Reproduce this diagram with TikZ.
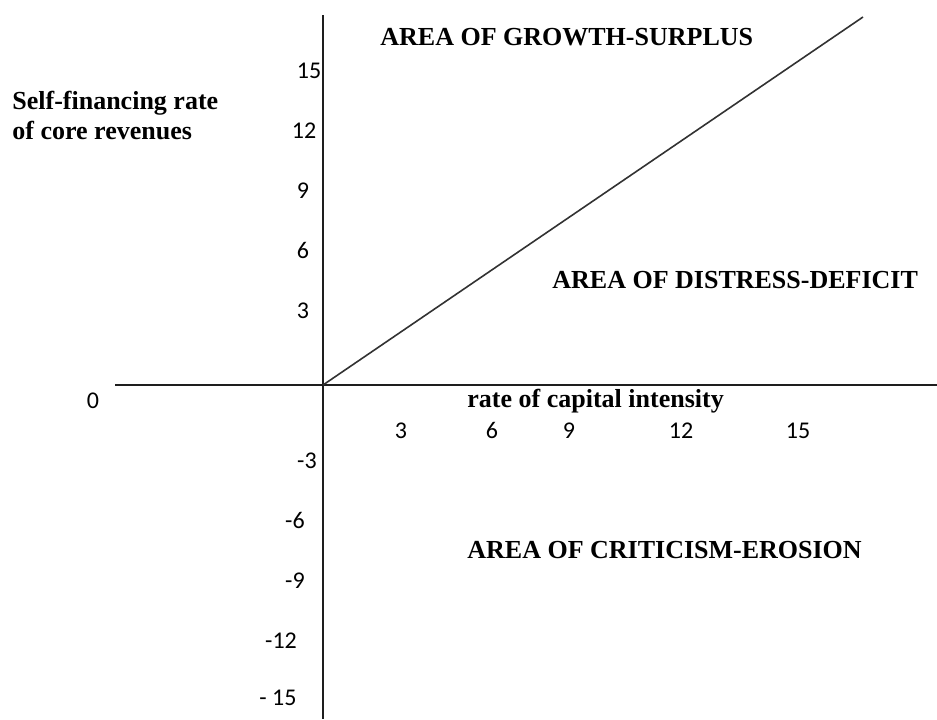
\documentclass[tikz,border=0pt]{standalone}
\usepackage{fontspec}
\setmainfont{Liberation Serif}
\newfontfamily\tickfont{Carlito}
\usepackage{tikz}
\usetikzlibrary{positioning}
\usepackage{xcolor}
\definecolor{cAxis}{RGB}{30,30,30}
\definecolor{cLine}{RGB}{50,50,50}
\tikzset{
  axisline/.style={line width=1pt, color=cAxis},
  diagline/.style={line width=0.8pt, color=cLine},
  ticklabel/.style={anchor=base, inner sep=0pt,
                    font=\tickfont\fontsize{12}{14}\selectfont},
  arealabel/.style={anchor=west, inner sep=0pt,
                    font=\bfseries\fontsize{13}{15}\selectfont},
  axislabel/.style={anchor=west, inner sep=0pt, align=left,
                    font=\bfseries\fontsize{13}{15}\selectfont}
}

\begin{document}
\begin{tikzpicture}[x=0.5pt, y={(0pt,-0.5pt)}]

  \useasboundingbox (0,0) rectangle (937,719);

  % ── Axes ──
  \coordinate (O) at (323,385);
  \coordinate (ytop) at (323,15);
  \coordinate (ybot) at (323,719);
  \coordinate (xleft) at (115,385);
  \coordinate (xright) at (937,385);
  \coordinate (diagend) at (863,17);

  \draw[axisline] (ytop) -- (ybot);
  \draw[axisline] (xleft) -- (xright);
  \draw[diagline] (O) -- (diagend);

  % ── Tick labels (placed by baseline) ──
  \foreach \val/\px/\py in {15/309/78, 12/304/138, 9/303/198, 6/303/258,
                            3/303/318, 0/93/408, -3/307/468, -6/295/528,
                            -9/295/588, -12/281/648, - 15/278/705}
    \node[ticklabel] (ytick\py) at (\px,\py) {\val};
  \foreach \val/\px in {3/401, 6/492, 9/569, 12/681, 15/798}
    \node[ticklabel] (xtick\val) at (\px,438) {\val};

  % ── Axis titles ──
  \node[axislabel] (ytitle) at (12,115) {Self-financing rate\\of core revenues};
  \node[axislabel] (xtitle) at (467,401) {rate of capital intensity};

  % ── Areas ──
  \node[arealabel] (growth) at (380,37) {AREA OF GROWTH-SURPLUS};
  \node[arealabel] (distress) at (552,280) {AREA OF DISTRESS-DEFICIT};
  \node[arealabel] (criticism) at (467,550) {AREA OF CRITICISM-EROSION};

\end{tikzpicture}
\end{document}
